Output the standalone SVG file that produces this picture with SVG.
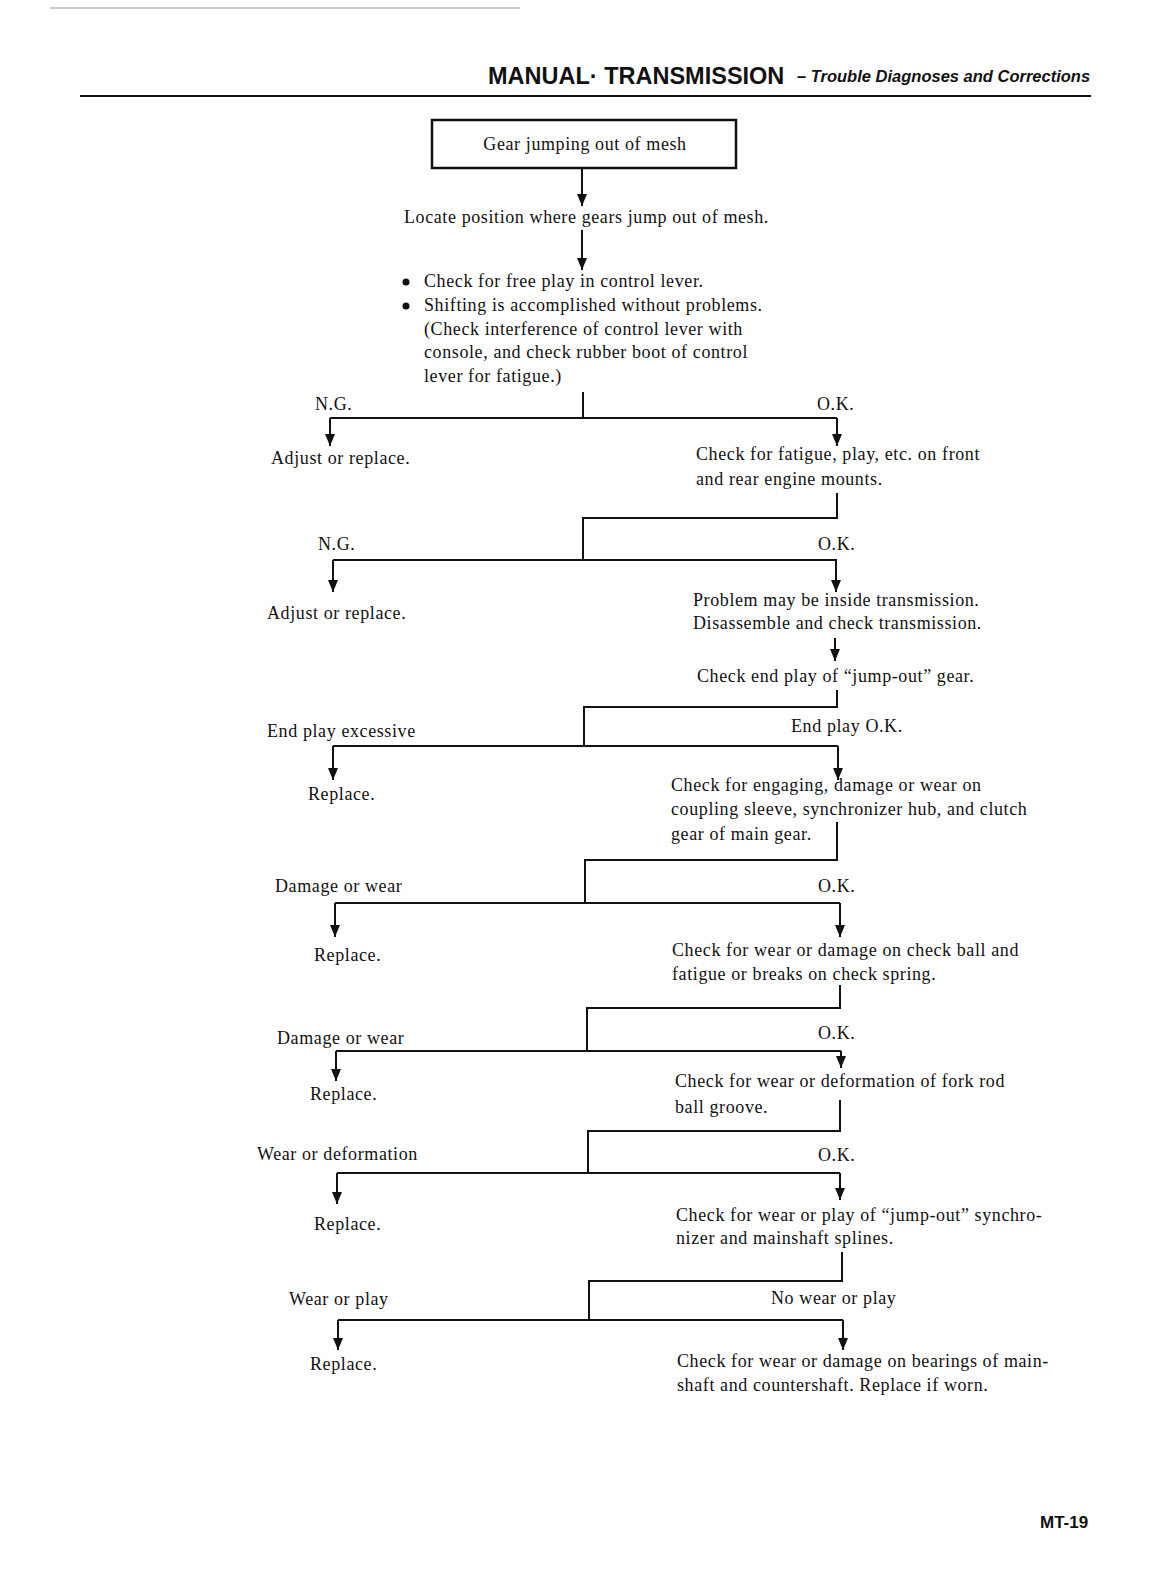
<svg xmlns="http://www.w3.org/2000/svg" width="1166" height="1584" viewBox="0 0 1166 1584">
<style>
  .t { font-family: "Liberation Serif", "Times New Roman", serif; font-size: 18px; letter-spacing: 0.6px; fill: #111; }
  .ln { stroke: #111; stroke-width: 2; fill: none; }
  .ar { stroke: #111; stroke-width: 2; fill: none; marker-end: url(#ah); }
  .hd { font-family: "Liberation Sans", Arial, sans-serif; font-weight: bold; fill: #111; }
</style>
<defs>
  <marker id="ah" viewBox="0 0 12 10" refX="12" refY="5" markerWidth="12" markerHeight="10" markerUnits="userSpaceOnUse" orient="auto">
    <path d="M0,0 L12,5 L0,10 Z" fill="#111"/>
  </marker>
</defs>
<rect width="1166" height="1584" fill="#fff"/>
<g id="header">
  <line x1="50" y1="8" x2="520" y2="8" stroke="#999" stroke-width="1"/>
  <text class="hd" x="488" y="84" font-size="23.5">MANUAL· TRANSMISSION</text>
  <text class="hd" x="797" y="82" font-size="16.5" font-style="italic">– Trouble Diagnoses and Corrections</text>
  <line x1="80" y1="96" x2="1091" y2="96" stroke="#111" stroke-width="2"/>
</g>
<g id="connectors">
  <line class="ar" x1="582" y1="168" x2="582" y2="206"/>
  <line class="ar" x1="582" y1="230" x2="582" y2="270"/>
  <path class="ln" d="M583,392 V418 M330,418 H837"/>
  <path class="ar" d="M330,418 V446"/>
  <path class="ar" d="M837,418 V446"/>
  <path class="ln" d="M837,493 V518 H583 V560 M333,560 H837"/>
  <path class="ar" d="M333,560 V592"/>
  <path class="ar" d="M836,560 V592"/>
  <path class="ar" d="M835,638 V661"/>
  <path class="ln" d="M837,690 V707 H584 V746 M333,746 H838"/>
  <path class="ar" d="M333,746 V780"/>
  <path class="ar" d="M838,746 V780"/>
  <path class="ln" d="M837,822 V860 H585 V903 M335,903 H840"/>
  <path class="ar" d="M335,903 V937"/>
  <path class="ar" d="M840,903 V937"/>
  <path class="ln" d="M840,985 V1008 H587 V1051 M336,1051 H841"/>
  <path class="ar" d="M336,1051 V1081"/>
  <path class="ar" d="M841,1051 V1068"/>
  <path class="ln" d="M840,1100 V1131 H588 V1173 M337,1173 H840"/>
  <path class="ar" d="M337,1173 V1204"/>
  <path class="ar" d="M840,1173 V1200"/>
  <path class="ln" d="M842,1252 V1281 H589 V1320 M338,1320 H843"/>
  <path class="ar" d="M338,1320 V1350"/>
  <path class="ar" d="M843,1320 V1350"/>
</g>
<g id="n-start">
  <rect x="432" y="120" width="304" height="48" fill="none" stroke="#111" stroke-width="2.5"/>
  <text class="t" x="585" y="150" text-anchor="middle">Gear jumping out of mesh</text>
</g>
<g id="n-locate">
  <text class="t" x="404" y="223">Locate position where gears jump out of mesh.</text>
</g>
<g id="n-check1">
  <circle cx="406" cy="282" r="3.5" fill="#111"/>
  <circle cx="406" cy="306" r="3.5" fill="#111"/>
  <text class="t" x="424" y="287">Check for free play in control lever.</text>
  <text class="t" x="424" y="311">Shifting is accomplished without problems.</text>
  <text class="t" x="424" y="335">(Check interference of control lever with</text>
  <text class="t" x="424" y="358">console, and check rubber boot of control</text>
  <text class="t" x="424" y="382">lever for fatigue.)</text>
</g>
<g id="l1">
  <text class="t" x="315" y="410">N.G.</text>
  <text class="t" x="817" y="410">O.K.</text>
</g>
<g id="n-adjust1"><text class="t" x="271" y="464">Adjust or replace.</text></g>
<g id="n-mounts">
  <text class="t" x="696" y="460">Check for fatigue, play, etc. on front</text>
  <text class="t" x="696" y="485">and rear engine mounts.</text>
</g>
<g id="l2">
  <text class="t" x="318" y="550">N.G.</text>
  <text class="t" x="818" y="550">O.K.</text>
</g>
<g id="n-adjust2"><text class="t" x="267" y="619">Adjust or replace.</text></g>
<g id="n-inside">
  <text class="t" x="693" y="606">Problem may be inside transmission.</text>
  <text class="t" x="693" y="629">Disassemble and check transmission.</text>
</g>
<g id="n-endplay"><text class="t" x="697" y="682">Check end play of “jump-out” gear.</text></g>
<g id="l3">
  <text class="t" x="267" y="737">End play excessive</text>
  <text class="t" x="791" y="732">End play O.K.</text>
</g>
<g id="n-replace1"><text class="t" x="308" y="800">Replace.</text></g>
<g id="n-engaging">
  <text class="t" x="671" y="791">Check for engaging, damage or wear on</text>
  <text class="t" x="671" y="815">coupling sleeve, synchronizer hub, and clutch</text>
  <text class="t" x="671" y="840">gear of main gear.</text>
</g>
<g id="l4">
  <text class="t" x="275" y="892">Damage or wear</text>
  <text class="t" x="818" y="892">O.K.</text>
</g>
<g id="n-replace2"><text class="t" x="314" y="961">Replace.</text></g>
<g id="n-checkball">
  <text class="t" x="672" y="956">Check for wear or damage on check ball and</text>
  <text class="t" x="672" y="980">fatigue or breaks on check spring.</text>
</g>
<g id="l5">
  <text class="t" x="277" y="1044">Damage or wear</text>
  <text class="t" x="818" y="1039">O.K.</text>
</g>
<g id="n-replace3"><text class="t" x="310" y="1100">Replace.</text></g>
<g id="n-forkrod">
  <text class="t" x="675" y="1087">Check for wear or deformation of fork rod</text>
  <text class="t" x="675" y="1113">ball groove.</text>
</g>
<g id="l6">
  <text class="t" x="257" y="1160">Wear or deformation</text>
  <text class="t" x="818" y="1161">O.K.</text>
</g>
<g id="n-replace4"><text class="t" x="314" y="1230">Replace.</text></g>
<g id="n-splines">
  <text class="t" x="676" y="1221">Check for wear or play of “jump-out” synchro-</text>
  <text class="t" x="676" y="1244">nizer and mainshaft splines.</text>
</g>
<g id="l7">
  <text class="t" x="289" y="1305">Wear or play</text>
  <text class="t" x="771" y="1304">No wear or play</text>
</g>
<g id="n-replace5"><text class="t" x="310" y="1370">Replace.</text></g>
<g id="n-bearings">
  <text class="t" x="677" y="1367">Check for wear or damage on bearings of main-</text>
  <text class="t" x="677" y="1391">shaft and countershaft. Replace if worn.</text>
</g>
<g id="footer">
  <text class="hd" x="1040" y="1528" font-size="17">MT-19</text>
</g>
</svg>
